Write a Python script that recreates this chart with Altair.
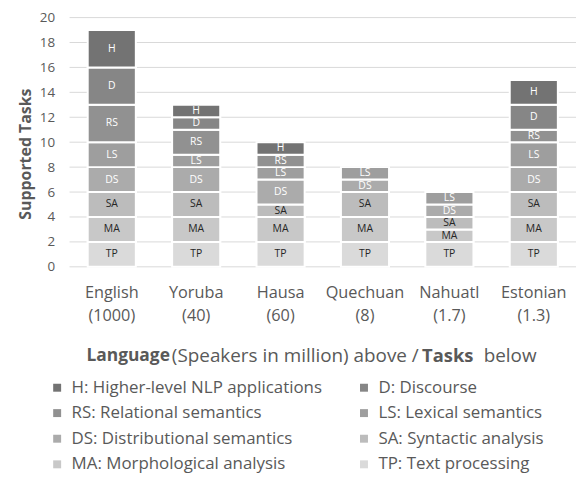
import altair as alt
import pandas as pd

languages = ["English", "Yoruba", "Hausa", "Quechuan", "Nahuatl", "Estonian"]
speakers = ["1000", "40", "60", "8", "1.7", "1.3"]

task_codes = ["TP", "MA", "SA", "DS", "LS", "RS", "D", "H"]
task_names = [
    "TP: Text processing",
    "MA: Morphological analysis",
    "SA: Syntactic analysis",
    "DS: Distributional semantics",
    "LS: Lexical semantics",
    "RS: Relational semantics",
    "D: Discourse",
    "H: Higher-level NLP applications",
]
task_colors = ["#dadada", "#c8c8c8", "#bcbcbc", "#ababab", "#9e9e9e", "#919191", "#868686", "#737373"]

# counts per task, in language order
tp = [2, 2, 2, 2, 2, 2]
ma = [2, 2, 2, 2, 1, 2]
sa = [2, 2, 1, 2, 1, 2]
ds = [2, 2, 2, 1, 1, 2]
ls = [2, 1, 1, 1, 1, 2]
rs = [3, 2, 1, 0, 0, 1]
d = [3, 1, 0, 0, 0, 2]
h = [3, 1, 1, 0, 0, 2]
task_counts = [tp, ma, sa, ds, ls, rs, d, h]

y_ticks = [0, 2, 4, 6, 8, 10, 12, 14, 16, 18, 20]

rows = []
for ti, (code, name, vals) in enumerate(zip(task_codes, task_names, task_counts)):
    for lang, spk, v in zip(languages, speakers, vals):
        rows.append({
            "label": f"{lang}\n({spk})",
            "task": name,
            "code": code,
            "idx": ti,
            "count": v,
        })
df = pd.DataFrame(rows)
x_order = [f"{l}\n({s})" for l, s in zip(languages, speakers)]

# legend is filled column by column: reorder so it reads row by row
rev_names = task_names[::-1]
rev_colors = task_colors[::-1]
leg_order = [0, 2, 4, 6, 1, 3, 5, 7]
legend_domain = [rev_names[i] for i in leg_order]
legend_range = [rev_colors[i] for i in leg_order]

FONT = "Open Sans"
GREY = "#595959"

x_axis = alt.Axis(
    title=None,
    labelExpr="split(datum.label, '\\n')",
    labelFontSize=16.4,
    labelColor=GREY,
    labelFont=FONT,
    labelPadding=18,
    labelLineHeight=23,
    labelAngle=0,
    ticks=False,
    domain=False,
    grid=False,
)
x_scale = alt.Scale(paddingInner=0.43, paddingOuter=0.215)

y_axis = alt.Axis(
    title="Supported Tasks",
    values=y_ticks,
    labelOverlap=False,
    grid=False,
    domain=False,
    ticks=False,
    labelFontSize=13.5,
    labelColor=GREY,
    labelFont=FONT,
    labelPadding=15,
    titleFont=FONT,
    titleFontSize=16,
    titleFontWeight="bold",
    titleColor=GREY,
    titleX=-44,
    titleY=137,
    titleAlign="center",
    titleBaseline="middle",
)
y_scale = alt.Scale(domain=[0, 20])

grid = (
    alt.Chart(pd.DataFrame({"v": y_ticks}))
    .mark_rule(color="#d9d9d9", strokeWidth=1)
    .encode(y=alt.Y("v:Q", scale=y_scale, axis=y_axis))
)

base = alt.Chart(df).transform_filter("datum.count > 0")

bars = base.mark_bar(stroke="white", strokeWidth=2).encode(
    x=alt.X("label:N", sort=x_order, scale=x_scale, axis=x_axis),
    y=alt.Y("count:Q", stack="zero", scale=y_scale, axis=y_axis),
    color=alt.Color(
        "task:N",
        scale=alt.Scale(domain=legend_domain, range=legend_range),
        legend=alt.Legend(
            title=None,
            orient="none",
            legendX=-21,
            legendY=364,
            columns=2,
            symbolType="square",
            symbolSize=64,
            symbolStrokeWidth=0,
            symbolOpacity=1,
            labelFont=FONT,
            labelFontSize=17,
            labelColor=GREY,
            labelOffset=6,
            labelLimit=400,
            rowPadding=7.8,
            columnPadding=33,
            padding=0,
        ),
    ),
    order=alt.Order("idx:Q", sort="ascending"),
)

labels = (
    base.transform_stack(
        stack="count",
        as_=["y0", "y1"],
        groupby=["label"],
        sort=[alt.SortField("idx", order="ascending")],
    )
    .transform_calculate(mid="(datum.y0 + datum.y1) / 2")
    .mark_text(font=FONT, fontSize=10.5, baseline="middle", align="center")
    .encode(
        x=alt.X("label:N", sort=x_order, scale=x_scale, axis=x_axis),
        y=alt.Y("mid:Q", scale=y_scale, axis=y_axis),
        text="code:N",
        color=alt.condition("datum.idx < 3", alt.value("#262626"), alt.value("#ffffff")),
    )
)

one = pd.DataFrame({"k": [0]})
title_pieces = [
    ("Language", "bold", 17.5, 17),
    ("(Speakers in million) above /", "normal", 19, 103),
    ("Tasks", "bold", 18.5, 355),
    ("below", "normal", 19, 417),
]
title_layers = [
    alt.Chart(one)
    .mark_text(font=FONT, fontSize=fs, fontWeight=w, color=GREY, align="left", baseline="middle")
    .encode(x=alt.value(px), y=alt.value(341), text=alt.value(t))
    for t, w, fs, px in title_pieces
]

chart = (
    alt.layer(grid, bars, labels, *title_layers)
    .properties(
        width=510,
        height=251,
        autosize=alt.AutoSizeParams(type="none"),
        padding={"left": 62, "top": 8, "right": 0, "bottom": 209},
    )
    .configure_view(stroke=None)
)

chart.save("out.html", embed_options={"renderer": "svg", "actions": False})
